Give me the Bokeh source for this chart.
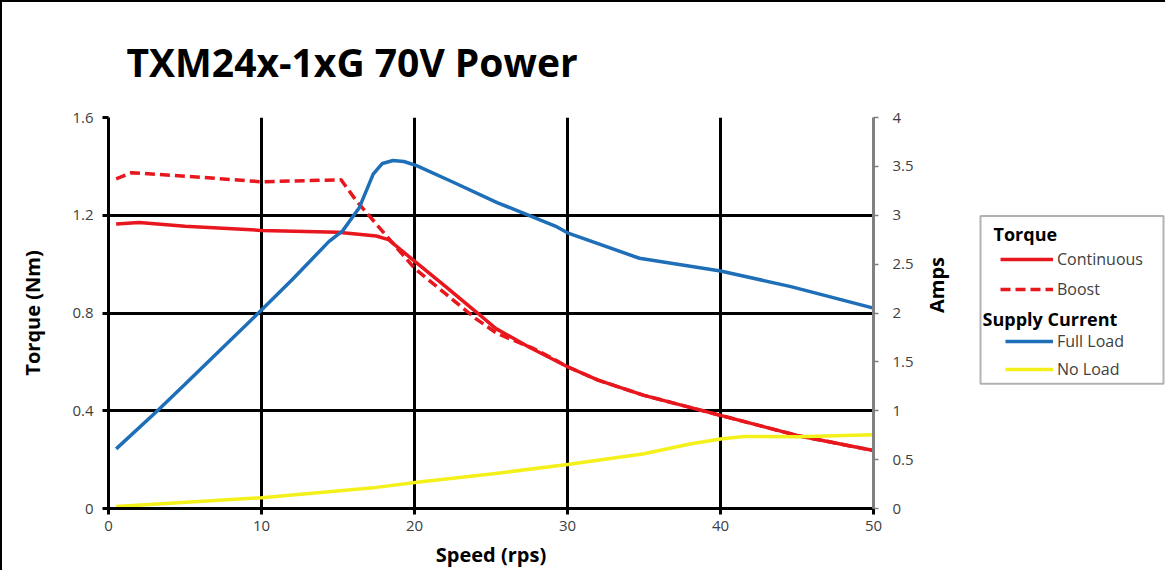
import math
from bokeh.plotting import figure
from bokeh.layouts import row
from bokeh.models import (LinearAxis, Range1d, FixedTicker, Legend, LegendItem,
                          BoxAnnotation, Label)
from bokeh.embed import file_html
from bokeh.resources import INLINE

# ---------------- data ----------------
title_text = "TXM24x-1xG 70V Power"
x_label = "Speed (rps)"
y_label = "Torque (Nm)"
y2_label = "Amps"

x_ticks = [0, 10, 20, 30, 40, 50]
x_tick_labels = ["0", "10", "20", "30", "40", "50"]
y_ticks = [0, 0.4, 0.8, 1.2, 1.6]
y_tick_labels = ["0", "0.4", "0.8", "1.2", "1.6"]
y2_ticks = [0, 0.5, 1, 1.5, 2, 2.5, 3, 3.5, 4]
y2_tick_labels = ["0", "0.5", "1", "1.5", "2", "2.5", "3", "3.5", "4"]

legend_group1 = "Torque"
legend_group2 = "Supply Current"
series_names = ["Continuous", "Boost", "Full Load", "No Load"]

# Torque - Continuous (Nm)
speed_cont = [0.5, 2, 5, 10, 15, 17.5, 18.3, 20, 22, 24, 25.3, 27.5, 30, 32, 35, 40, 45, 50]
torque_cont = [1.164, 1.17, 1.155, 1.138, 1.13, 1.115, 1.10, 1.012, 0.91, 0.806, 0.737,
               0.66, 0.58, 0.525, 0.463, 0.381, 0.299, 0.237]

# Torque - Boost (Nm)
speed_boost = [0.5, 1.5, 5, 10, 15.2, 16.2, 17.9, 19.6, 20, 22, 24, 25.4, 27.8, 29, 30, 32,
               35, 40, 45, 50]
torque_boost = [1.349, 1.374, 1.36, 1.337, 1.345, 1.259, 1.135, 1.012, 0.983, 0.88, 0.777,
                0.716, 0.654, 0.615, 0.58, 0.525, 0.463, 0.381, 0.299, 0.237]

# Supply current - Full Load (A)
speed_full = [0.5, 3.2, 5, 9.8, 12, 14.4, 15.3, 16.4, 17.3, 17.9, 18.6, 19.3, 20.1, 22.5,
              25.4, 29.2, 30, 34.7, 40, 44.6, 50]
amps_full = [0.61, 1.0, 1.27, 2.0, 2.34, 2.73, 2.84, 3.08, 3.42, 3.53, 3.56, 3.55, 3.51,
             3.34, 3.13, 2.89, 2.82, 2.56, 2.43, 2.27, 2.05]

# Supply current - No Load (A)
speed_noload = [0.5, 10, 17.5, 20.3, 25, 30, 35, 38, 40, 41.5, 45, 50]
amps_noload = [0.02, 0.11, 0.216, 0.27, 0.353, 0.45, 0.56, 0.66, 0.71, 0.737, 0.735, 0.754]

# ---------------- styles ----------------
RED = "#E8161D"
BLUE = "#1E6FB8"
YELLOW = "#F4F01A"
FONT = "Open Sans"
TICK_COLOR = "#404040"
LW = 3.5
FRAME_W, FRAME_H = 763, 389
BORDER_TOP, BORDER_BOTTOM = 115, 64

p = figure(frame_width=FRAME_W, frame_height=FRAME_H,
           x_range=Range1d(0, 50), y_range=Range1d(0, 1.6),
           output_backend="svg", toolbar_location=None,
           min_border_left=106, min_border_top=BORDER_TOP, min_border_right=104,
           min_border_bottom=BORDER_BOTTOM)
p.styles = {"border-left": "2px solid black", "border-top": "2px solid black"}
p.extra_y_ranges = {"amps": Range1d(0, 4)}
p.outline_line_color = None
p.background_fill_color = "white"
p.border_fill_color = "white"

# title
p.title.text = title_text
p.title.align = "left"
p.title.offset = 18
p.title.standoff = 59
p.title.text_font = FONT
p.title.text_font_size = "39px"
p.title.text_font_style = "bold"
p.title.text_color = "black"

# grids
p.xgrid.ticker = FixedTicker(ticks=x_ticks[1:-1])
p.ygrid.ticker = FixedTicker(ticks=y_ticks[1:])
for g in (p.xgrid, p.ygrid):
    g.grid_line_color = "black"
    g.grid_line_width = 3
    g.grid_line_alpha = 1

# bottom axis
xa = p.xaxis[0]
xa.ticker = FixedTicker(ticks=x_ticks)
xa.major_label_overrides = dict(zip(x_ticks, x_tick_labels))
xa.axis_label = x_label
# left axis
ya = p.yaxis[0]
ya.ticker = FixedTicker(ticks=y_ticks)
ya.major_label_overrides = dict(zip(y_ticks, y_tick_labels))
ya.axis_label = y_label

for ax in (xa, ya):
    ax.axis_line_color = "black"
    ax.axis_line_width = 3
    ax.major_tick_line_color = "black"
    ax.major_tick_line_width = 3
    ax.major_tick_out = 6
    ax.major_tick_in = 0
    ax.minor_tick_line_color = None
    ax.major_label_text_font = FONT
    ax.major_label_text_font_size = "15px"
    ax.major_label_text_color = TICK_COLOR
    ax.axis_label_text_font = FONT
    ax.axis_label_text_font_size = "20px"
    ax.axis_label_text_font_style = "bold"
    ax.axis_label_text_color = "black"
xa.major_label_standoff = 6
xa.axis_label_standoff = 7
ya.major_label_standoff = 9
ya.axis_label_standoff = 23

# right axis
ra = LinearAxis(y_range_name="amps", ticker=FixedTicker(ticks=y2_ticks),
                axis_label=y2_label)
ra.major_label_overrides = dict(zip(y2_ticks, y2_tick_labels))
ra.axis_line_color = "#808080"
ra.axis_line_width = 3
ra.major_tick_line_color = "#808080"
ra.major_tick_line_width = 1.5
ra.major_tick_out = 5
ra.major_tick_in = 0
ra.minor_tick_line_color = None
ra.major_label_text_font = FONT
ra.major_label_text_font_size = "15px"
ra.major_label_text_color = TICK_COLOR
ra.major_label_standoff = 14
ra.axis_label_text_font = FONT
ra.axis_label_text_font_size = "20px"
ra.axis_label_text_font_style = "bold"
ra.axis_label_text_color = "black"
ra.axis_label_standoff = 20
ra.axis_label_orientation = math.pi / 2
p.add_layout(ra, "right")

# curves
r_boost = p.line(speed_boost, torque_boost, line_color=RED, line_width=LW,
                 line_dash="10 5")
r_cont = p.line(speed_cont, torque_cont, line_color=RED, line_width=LW)
r_full = p.line(speed_full, amps_full, line_color=BLUE, line_width=LW,
                y_range_name="amps")
r_noload = p.line(speed_noload, amps_noload, line_color=YELLOW, line_width=LW,
                  y_range_name="amps")

# ---------------- legend panel (frame aligned with the main plot's frame) ----------------
LEG_W = 190
lf = figure(frame_width=LEG_W, frame_height=FRAME_H,
            x_range=Range1d(0, LEG_W), y_range=Range1d(0, FRAME_H),
            output_backend="svg", toolbar_location=None, title=None,
            x_axis_location=None, y_axis_location=None,
            min_border_left=0, min_border_right=0,
            min_border_top=BORDER_TOP, min_border_bottom=BORDER_BOTTOM)
lf.styles = {"border-top": "2px solid black"}
lf.grid.visible = False
lf.outline_line_color = None
lf.background_fill_color = "white"
lf.border_fill_color = "white"

# hidden proxies of the plotted series (legend entries only)
g_cont = lf.line(speed_cont, torque_cont, line_color=RED, line_width=LW, visible=False)
g_boost = lf.line(speed_boost, torque_boost, line_color=RED, line_width=LW,
                  line_dash="10 5", visible=False)
g_full = lf.line(speed_full, amps_full, line_color=BLUE, line_width=LW, visible=False)
g_noload = lf.line(speed_noload, amps_noload, line_color=YELLOW, line_width=LW,
                   visible=False)

def style_legend(lg):
    lg.label_text_font = FONT
    lg.label_text_font_size = "16px"
    lg.label_text_color = TICK_COLOR
    lg.label_height = 20
    lg.glyph_height = 20
    lg.label_standoff = 4
    lg.padding = 0
    lg.margin = 0
    lg.background_fill_alpha = 0
    lg.border_line_color = None

leg1 = Legend(items=[LegendItem(label=series_names[0], renderers=[g_cont]),
                     LegendItem(label=series_names[1], renderers=[g_boost])],
              location=(25, 208))
style_legend(leg1)
leg1.glyph_width = 53
leg1.spacing = 8

leg2 = Legend(items=[LegendItem(label=series_names[2], renderers=[g_full]),
                     LegendItem(label=series_names[3], renderers=[g_noload])],
              location=(30, 128))
style_legend(leg2)
leg2.glyph_width = 48
leg2.spacing = 6

for txt, xx, yy in ((legend_group1, 18, 273), (legend_group2, 7, 189)):
    lf.add_layout(Label(x=xx, y=yy, text=txt, text_font=FONT, text_font_size="18px",
                        text_font_style="bold", text_color="black",
                        text_baseline="middle"))

box = BoxAnnotation(left=5, right=188, bottom=124, top=291,
                    fill_alpha=0, line_color="black", line_width=2)
lf.add_layout(box)
lf.add_layout(leg1, "center")
lf.add_layout(leg2, "center")

layout = row(p, lf)
open("out.html", "w").write(file_html(layout, INLINE))
